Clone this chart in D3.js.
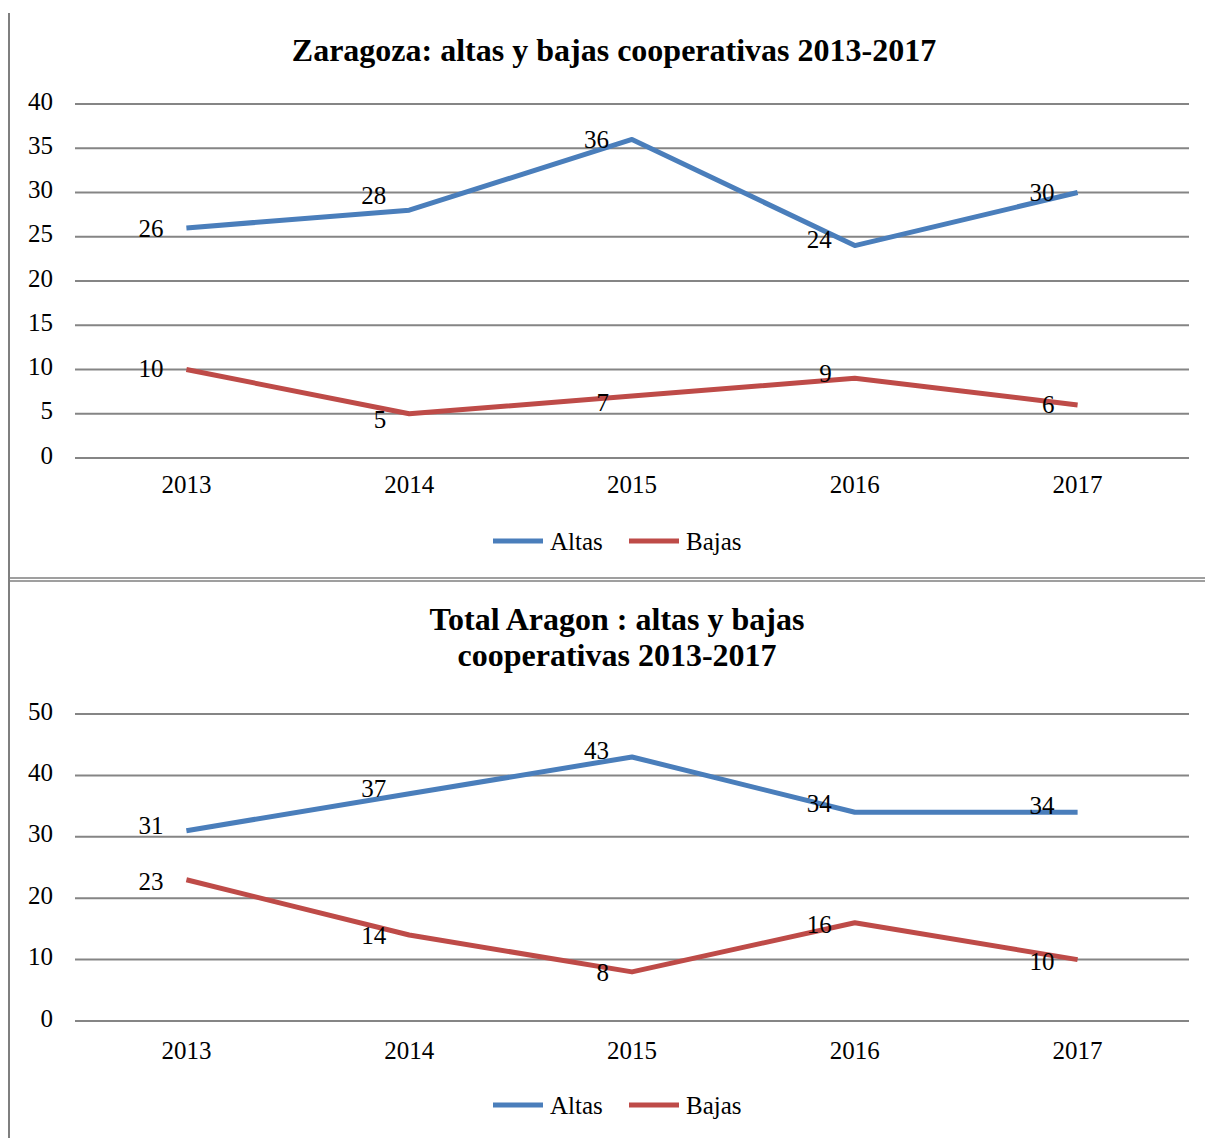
<!DOCTYPE html>
<html><head><meta charset="utf-8">
<script src="https://cdn.jsdelivr.net/npm/d3@7"></script>
<style>body{margin:0;background:#fff}svg{display:block}</style>
</head><body>
<script>
const years = ["2013","2014","2015","2016","2017"];
const seriesNames = ["Altas","Bajas"];
const zaragozaAltas = [26,28,36,24,30];
const zaragozaBajas = [10,5,7,9,6];
const aragonAltas = [31,37,43,34,34];
const aragonBajas = [23,14,8,16,10];
const zaragozaTicks = [0,5,10,15,20,25,30,35,40];
const aragonTicks = [0,10,20,30,40,50];
const titleZaragoza = ["Zaragoza: altas y bajas cooperativas 2013-2017"];
const titleAragon = ["Total Aragon : altas y bajas","cooperativas 2013-2017"];
// label vertical nudges (styling)
const zaragozaLabelDy = [[0,-15,0,-6,0],[-1,5,6,-5,-1]];
const aragonLabelDy = [[-5,-6,-7,-9,-7],[1,0,0,1,2]];

const colors = ["#4a7ebb","#be4b48"];
const W=1205,H=1138;
const svg=d3.select("body").append("svg").attr("width",W).attr("height",H);
const font="'Liberation Serif','Times New Roman',serif";
const fs=25;

svg.append("line").attr("x1",9).attr("x2",9).attr("y1",13).attr("y2",H).attr("stroke","#7f7f7f").attr("stroke-width",2);
svg.append("line").attr("x1",10).attr("x2",W).attr("y1",578).attr("y2",578).attr("stroke","#7f7f7f").attr("stroke-width",1.5);
svg.append("line").attr("x1",10).attr("x2",W).attr("y1",581).attr("y2",581).attr("stroke","#7f7f7f").attr("stroke-width",1.5);

function chart(cfg){
  const g=svg.append("g");
  const x=d3.scaleBand().domain(years).range([75,1189]);
  const y=d3.scaleLinear().domain([0,cfg.ticks[cfg.ticks.length-1]]).range([cfg.y0,cfg.y1]);
  cfg.title.forEach((t,i)=>{
    g.append("text").attr("x",cfg.titleX).attr("y",cfg.titleY+i*36).attr("text-anchor","middle")
      .attr("font-family",font).attr("font-weight","bold").attr("font-size",32).attr("fill","#000").text(t);
  });
  g.append("g").selectAll("line").data(cfg.ticks).join("line")
    .attr("x1",75).attr("x2",1189).attr("y1",d=>y(d)).attr("y2",d=>y(d))
    .attr("stroke","#858585").attr("stroke-width",2);
  const ya=g.append("g").attr("transform","translate(53,0)")
    .call(d3.axisLeft(y).tickValues(cfg.ticks).tickSize(0).tickPadding(0));
  ya.select(".domain").remove();
  ya.selectAll("text").attr("font-family",font).attr("font-size",fs).attr("fill","#000").attr("dy","0.2em");
  const xa=g.append("g").attr("transform",`translate(0,${cfg.y0})`)
    .call(d3.axisBottom(x).tickSize(0).tickPadding(cfg.xPad));
  xa.select(".domain").remove();
  xa.selectAll("text").attr("font-family",font).attr("font-size",fs).attr("fill","#000").attr("dy","0.71em");
  const line=d3.line().x((d,i)=>x(years[i])+x.bandwidth()/2).y(d=>y(d));
  cfg.series.forEach((s,k)=>{
    g.append("path").datum(s).attr("d",line).attr("fill","none").attr("stroke",colors[k])
      .attr("stroke-width",5).attr("stroke-linejoin","round");
    g.append("g").selectAll("text").data(s).join("text")
      .attr("x",(d,i)=>x(years[i])+x.bandwidth()/2-23)
      .attr("y",(d,i)=>y(d)+cfg.dy[k][i]).attr("dy","0.35em").attr("text-anchor","end")
      .attr("font-family",font).attr("font-size",fs).attr("fill","#000").text(d=>d);
  });
  const lg=g.append("g").attr("transform",`translate(0,${cfg.legendY})`);
  const lx=[493,629];
  seriesNames.forEach((n,k)=>{
    lg.append("line").attr("x1",lx[k]).attr("x2",lx[k]+50).attr("y1",0).attr("y2",0).attr("stroke",colors[k]).attr("stroke-width",5);
    lg.append("text").attr("x",lx[k]+57).attr("y",0).attr("dy","0.35em").attr("font-family",font).attr("font-size",fs).attr("fill","#000").text(n);
  });
}
chart({title:titleZaragoza,titleX:614,titleY:61,ticks:zaragozaTicks,y0:458,y1:104,series:[zaragozaAltas,zaragozaBajas],dy:zaragozaLabelDy,legendY:541,xPad:17});
chart({title:titleAragon,titleX:617,titleY:630,ticks:aragonTicks,y0:1021,y1:714,series:[aragonAltas,aragonBajas],dy:aragonLabelDy,legendY:1105,xPad:20});
</script>
</body></html>
